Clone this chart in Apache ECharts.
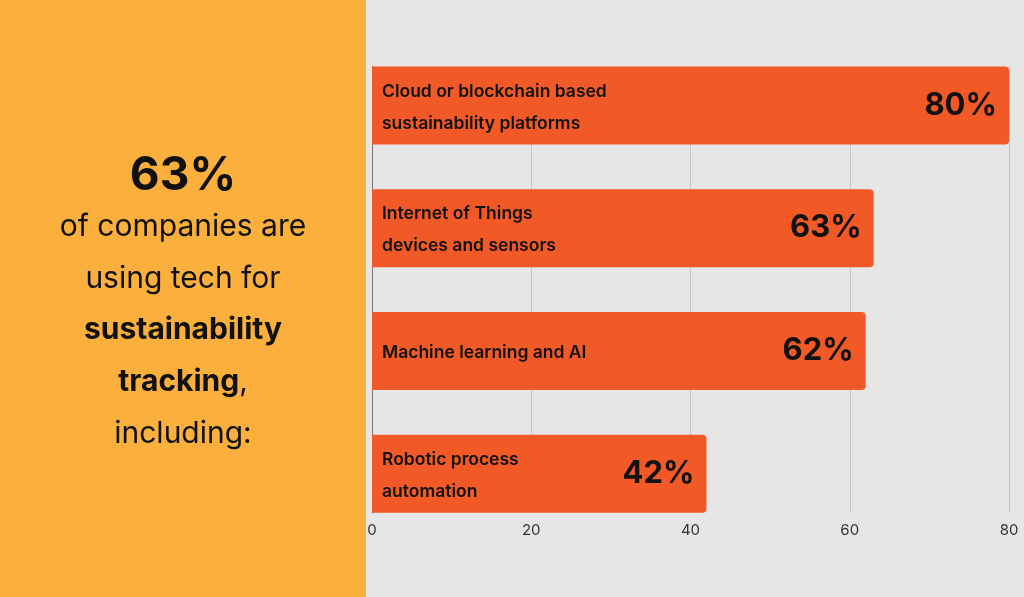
<!DOCTYPE html>
<html>
<head>
<meta charset="utf-8">
<script src="https://cdn.jsdelivr.net/npm/echarts@6/dist/echarts.min.js"></script>
<style>
  html, body { margin: 0; padding: 0; background: #e6e6e6; }
  #chart { width: 1024px; height: 597px; }
</style>
</head>
<body>
<div id="chart"></div>
<script>
// data
const categories = [
  'Cloud or blockchain based\nsustainability platforms',
  'Internet of Things\ndevices and sensors',
  'Machine learning and AI',
  'Robotic process\nautomation'
];
const values = [80, 63, 62, 42];
const axisMax = 80;
const axisStep = 20;

const chart = echarts.init(document.getElementById('chart'));
const FONT = 'Inter, Roboto, sans-serif';

// left panel text lines
function panelText(y, text, weight) {
  return {
    type: 'text', x: 183, y: y,
    style: {
      text: text, fill: '#111', font: weight + ' 30px ' + FONT,
      textAlign: 'center', textVerticalAlign: 'middle'
    }
  };
}

const option = {
  backgroundColor: '#e6e6e6',
  animation: false,
  // grid 0 only draws the split lines + tick labels, grid 1 holds the bars
  grid: [
    { left: 372, right: 15, top: 66, bottom: 84 },
    { left: 372, right: 15, top: 44, bottom: 62 }
  ],
  xAxis: [
    {
      gridIndex: 0, type: 'value', min: 0, max: axisMax, interval: axisStep,
      axisLine: { show: false }, axisTick: { show: false },
      splitLine: { lineStyle: { color: '#c4c4c4', width: 1 } },
      axisLabel: { color: '#333', fontSize: 15, fontFamily: FONT, margin: 10 }
    },
    {
      gridIndex: 1, type: 'value', min: 0, max: axisMax,
      show: false, splitLine: { show: false }
    }
  ],
  yAxis: [
    {
      gridIndex: 0, type: 'category', data: categories, inverse: true,
      axisLine: { show: true, lineStyle: { color: '#777', width: 1 } },
      axisTick: { show: false }, axisLabel: { show: false }
    },
    {
      gridIndex: 1, type: 'category', data: categories, inverse: true,
      show: false
    }
  ],
  series: [
    {
      type: 'bar', xAxisIndex: 1, yAxisIndex: 1,
      data: values, barWidth: 78,
      itemStyle: { color: '#f15a27', borderRadius: [0, 4, 4, 0] },
      label: {
        show: true, position: 'insideLeft', distance: 10, offset: [0, 2],
        formatter: (p) => p.name,
        color: '#111', fontSize: 17.5, fontWeight: 600, lineHeight: 32,
        fontFamily: FONT
      }
    },
    {
      // overlay just for the % value on the right
      type: 'bar', xAxisIndex: 1, yAxisIndex: 1,
      data: values, barWidth: 78, barGap: '-100%',
      itemStyle: { color: 'rgba(0,0,0,0)' },
      label: {
        show: true, position: 'insideRight', distance: 12,
        formatter: '{c}%',
        color: '#111', fontSize: 31, fontWeight: 700, fontFamily: FONT
      }
    }
  ],
  graphic: [
    {
      type: 'rect', x: 0, y: 0, z: -1,
      shape: { width: 366, height: 597 },
      style: { fill: '#fbaf3c' }
    },
    {
      type: 'text', x: 183, y: 176,
      style: { text: '63%', fill: '#111', font: '700 46px ' + FONT, textAlign: 'center', textVerticalAlign: 'middle' }
    },
    panelText(227, 'of companies are', 400),
    panelText(279, 'using tech for', 400),
    panelText(330, 'sustainability', 700),
    {
      type: 'text', x: 183, y: 382,
      style: {
        text: '{b|tracking}{r|,}', textAlign: 'center', textVerticalAlign: 'middle',
        rich: {
          b: { fill: '#111', fontSize: 30, fontWeight: 700, fontFamily: FONT },
          r: { fill: '#111', fontSize: 30, fontWeight: 400, fontFamily: FONT }
        }
      }
    },
    panelText(434, 'including:', 400)
  ]
};

chart.setOption(option);
</script>
</body>
</html>
